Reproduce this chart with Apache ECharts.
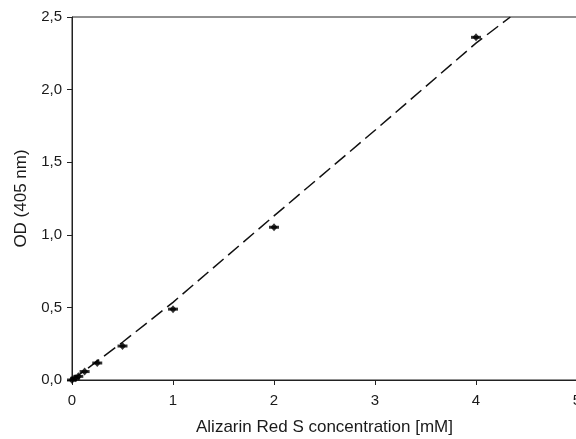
<!DOCTYPE html>
<html>
<head>
<meta charset="utf-8">
<script src="https://cdn.jsdelivr.net/npm/echarts@6/dist/echarts.min.js"></script>
<style>html,body{margin:0;padding:0;background:#fff;}#c{width:576px;height:439px;}</style>
</head>
<body>
<div id="c"></div>
<script>
const concentrations = [0, 0.03125, 0.0625, 0.125, 0.25, 0.5, 1, 2, 4];
const odValues = [0, 0.012, 0.025, 0.058, 0.117, 0.234, 0.488, 1.052, 2.36];
const fitX = [0, 0.25, 0.5, 1, 2, 3, 4, 4.34];
const fitY = [0, 0.13, 0.26, 0.535, 1.13, 1.72, 2.32, 2.5];
const xTicks = [0, 1, 2, 3, 4, 5];
const yTicks = [0, 0.5, 1.0, 1.5, 2.0, 2.5];

const pts = concentrations.map((x, i) => [x, odValues[i]]);
const fit = fitX.map((x, i) => [x, fitY[i]]);
const font = 'Liberation Sans, Arial, sans-serif';
const chart = echarts.init(document.getElementById('c'), null, {renderer: 'canvas'});
chart.setOption({
  animation: false,
  backgroundColor: '#fff',
  grid: {left: 72, top: 17, width: 505, height: 363, show: true, borderColor: '#222', borderWidth: 1,
         containLabel: false, outerBoundsMode: 'none'},
  xAxis: {
    type: 'value', min: xTicks[0], max: xTicks[xTicks.length - 1], interval: 1,
    name: 'Alizarin Red S concentration [mM]', nameLocation: 'middle', nameGap: 39,
    nameTextStyle: {fontFamily: font, fontSize: 17, color: '#1a1a1a'},
    axisLine: {show: true, lineStyle: {color: '#222', width: 1}},
    axisTick: {show: true, inside: false, length: 5, lineStyle: {color: '#222'}},
    axisLabel: {fontFamily: font, fontSize: 15, color: '#1a1a1a', margin: 13, formatter: v => String(v)},
    splitLine: {show: false}
  },
  yAxis: {
    type: 'value', min: yTicks[0], max: yTicks[yTicks.length - 1], interval: 0.5,
    name: 'OD (405 nm)', nameLocation: 'middle', nameGap: 42,
    nameTextStyle: {fontFamily: font, fontSize: 17, color: '#1a1a1a'},
    axisLine: {show: true, lineStyle: {color: '#222', width: 1}},
    axisTick: {show: true, inside: false, length: 5, lineStyle: {color: '#222'}},
    axisLabel: {fontFamily: font, fontSize: 15, color: '#1a1a1a', margin: 10, formatter: v => v.toFixed(1).replace('.', ',')},
    splitLine: {show: false}
  },
  series: [
    {type: 'line', data: fit, showSymbol: false, symbol: 'none', clip: true,
     lineStyle: {color: '#111', width: 1.5, type: [14, 6]}, z: 2},
    {type: 'scatter', data: pts, symbol: 'rect', symbolSize: [10, 3], itemStyle: {color: '#000'}, z: 3},
    {type: 'scatter', data: pts, symbol: 'diamond', symbolSize: [7, 8], itemStyle: {color: '#000'}, z: 4}
  ]
});
</script>
</body>
</html>
